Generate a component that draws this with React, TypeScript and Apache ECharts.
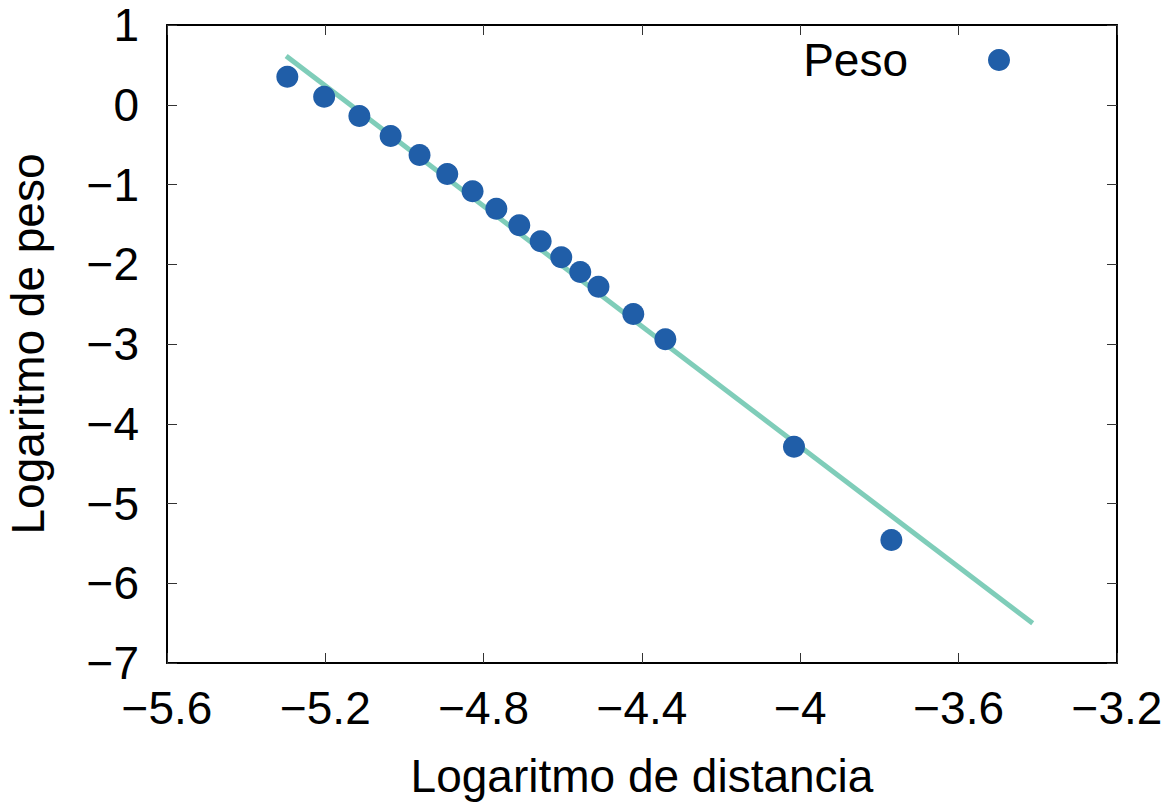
import React, { useEffect, useRef } from "react";
import * as echarts from "echarts";

const logDistancia: number[] = [
  -5.296, -5.203, -5.114, -5.035, -4.962, -4.892, -4.828, -4.768, -4.71,
  -4.656, -4.604, -4.556, -4.51, -4.422, -4.341, -4.016, -3.77,
];
const logPeso: number[] = [
  0.35, 0.101, -0.141, -0.392, -0.63, -0.868, -1.085, -1.303, -1.51,
  -1.712, -1.913, -2.097, -2.281, -2.624, -2.941, -4.288, -5.458,
];
const fitX: number[] = [-5.299, -3.413];
const fitY: number[] = [0.611, -6.502];

const FONT = "'Liberation Sans', Arial, sans-serif";

function fmt(v: number): string {
  const r = Math.round(v * 10) / 10;
  let s = r.toFixed(1);
  if (s.endsWith(".0")) s = s.slice(0, -2);
  if (s === "-0") s = "0";
  return s.replace("-", "\u2212");
}

export default function App() {
  const ref = useRef<HTMLDivElement>(null);
  useEffect(() => {
    if (!ref.current) return;
    const chart = echarts.init(ref.current, undefined, { renderer: "svg" });
    const axisLine = { show: true, onZero: false, lineStyle: { color: "#000", width: 2 } };
    const axisTick = { show: true, inside: true, length: 10, lineStyle: { color: "#333", width: 1 } };
    chart.setOption({
      animation: false,
      backgroundColor: "#fff",
      grid: {
        left: 167,
        right: 55,
        top: 25,
        bottom: 145,
        containLabel: false,
        outerBoundsMode: "none",
      },
      legend: {
        data: ["Peso"],
        right: 157,
        top: 32,
        align: "right",
        itemWidth: 22,
        itemHeight: 22,
        icon: "circle",
        textStyle: { fontFamily: FONT, fontSize: 46, color: "#000", padding: [0, 75, 0, 0] },
      },
      xAxis: [
        {
          type: "value",
          min: -5.6,
          max: -3.2,
          interval: 0.4,
          name: "Logaritmo de distancia",
          nameLocation: "middle",
          nameGap: 90,
          nameTextStyle: { fontFamily: FONT, fontSize: 46, color: "#000" },
          axisLine,
          axisTick,
          splitLine: { show: false },
          axisLabel: { fontFamily: FONT, fontSize: 46, color: "#000", margin: 22, formatter: fmt },
        },
        {
          type: "value",
          position: "top",
          min: -5.6,
          max: -3.2,
          interval: 0.4,
          axisLine,
          axisTick,
          splitLine: { show: false },
          axisLabel: { show: false },
        },
      ],
      yAxis: [
        {
          type: "value",
          min: -7,
          max: 1,
          interval: 1,
          name: "Logaritmo de peso",
          nameLocation: "middle",
          nameGap: 116,
          nameTextStyle: { fontFamily: FONT, fontSize: 46, color: "#000" },
          axisLine,
          axisTick,
          splitLine: { show: false },
          axisLabel: { fontFamily: FONT, fontSize: 46, color: "#000", margin: 28, formatter: fmt },
        },
        {
          type: "value",
          position: "right",
          min: -7,
          max: 1,
          interval: 1,
          axisLine,
          axisTick,
          splitLine: { show: false },
          axisLabel: { show: false },
        },
      ],
      series: [
        {
          name: "Ajuste",
          type: "line",
          data: fitX.map((x, i) => [x, fitY[i]]),
          showSymbol: false,
          symbol: "none",
          lineStyle: { color: "#7fcdb9", width: 5 },
          z: 1,
        },
        {
          name: "Peso",
          type: "scatter",
          data: logDistancia.map((x, i) => [x, logPeso[i]]),
          symbol: "circle",
          symbolSize: 22,
          itemStyle: { color: "#205ea8", opacity: 1 },
          z: 3,
        },
      ],
    });
    return () => chart.dispose();
  }, []);
  return (
    <div
      ref={ref}
      style={{ position: "fixed", left: 0, top: 0, width: 1172, height: 808 }}
    />
  );
}
